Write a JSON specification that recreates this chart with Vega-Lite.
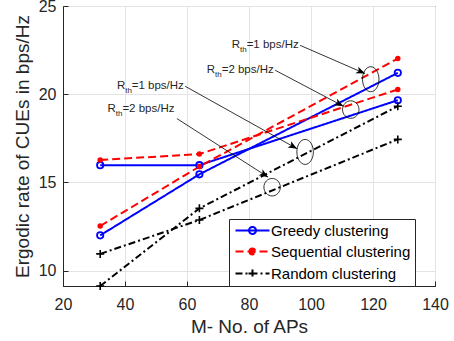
{
  "$schema": "https://vega.github.io/schema/vega-lite/v6.json",
  "width": 372,
  "height": 280,
  "autosize": "none",
  "padding": {"left": 63, "top": 6, "right": 19, "bottom": 55},
  "background": "white",
  "config": {
    "view": {"stroke": "#262626", "strokeWidth": 1},
    "font": "Liberation Sans",
    "axis": {
      "domainColor": "#262626",
      "tickColor": "#262626",
      "labelColor": "#262626",
      "titleColor": "#262626",
      "labelFont": "Liberation Sans",
      "titleFont": "Liberation Sans",
      "labelFontSize": 16,
      "titleFontSize": 19,
      "titleFontWeight": "normal",
      "gridColor": "#e3e3e3",
      "gridWidth": 1,
      "tickSize": -5,
      "tickWidth": 1
    },
    "legend": {
      "labelFont": "Liberation Sans",
      "labelFontSize": 15,
      "labelColor": "#000000",
      "strokeColor": "#262626",
      "fillColor": "#ffffff",
      "padding": 4,
      "rowPadding": 5,
      "symbolSize": 100,
      "symbolStrokeWidth": 2,
      "labelOffset": 23,
      "labelLimit": 300
    }
  },
  "datasets": {
    "series": [
      {"M": 32, "rate": 12.0, "method": "Greedy clustering", "rth": "1"},
      {"M": 64, "rate": 15.46, "method": "Greedy clustering", "rth": "1"},
      {"M": 128, "rate": 21.21, "method": "Greedy clustering", "rth": "1"},
      {"M": 32, "rate": 15.98, "method": "Greedy clustering", "rth": "2"},
      {"M": 64, "rate": 15.98, "method": "Greedy clustering", "rth": "2"},
      {"M": 128, "rate": 19.66, "method": "Greedy clustering", "rth": "2"},
      {"M": 32, "rate": 12.53, "method": "Sequential clustering", "rth": "1"},
      {"M": 64, "rate": 15.9, "method": "Sequential clustering", "rth": "1"},
      {"M": 128, "rate": 22.02, "method": "Sequential clustering", "rth": "1"},
      {"M": 32, "rate": 16.27, "method": "Sequential clustering", "rth": "2"},
      {"M": 64, "rate": 16.61, "method": "Sequential clustering", "rth": "2"},
      {"M": 128, "rate": 20.27, "method": "Sequential clustering", "rth": "2"},
      {"M": 32, "rate": 9.13, "method": "Random clustering", "rth": "1"},
      {"M": 64, "rate": 13.53, "method": "Random clustering", "rth": "1"},
      {"M": 128, "rate": 19.32, "method": "Random clustering", "rth": "1"},
      {"M": 32, "rate": 10.95, "method": "Random clustering", "rth": "2"},
      {"M": 64, "rate": 12.87, "method": "Random clustering", "rth": "2"},
      {"M": 128, "rate": 17.44, "method": "Random clustering", "rth": "2"}
    ],
    "notes": [
      {"id": 1, "rest": "=1 bps/Hz", "tx": 74.47, "ty": 22.62, "ax": 96.49, "ay": 22.77, "bx": 117.44, "by": 21.17, "ex": 119.27, "ey": 20.85},
      {"id": 2, "rest": "=2 bps/Hz", "tx": 66.41, "ty": 21.21, "ax": 88.43, "ay": 21.36, "bx": 110.44, "by": 19.32, "ex": 112.83, "ey": 19.13},
      {"id": 3, "rest": "=1 bps/Hz", "tx": 37.41, "ty": 20.27, "ax": 59.42, "ay": 20.45, "bx": 95.52, "by": 16.91, "ex": 98.1, "ey": 16.73},
      {"id": 4, "rest": "=2 bps/Hz", "tx": 34.38, "ty": 18.98, "ax": 56.74, "ay": 18.62, "bx": 86.17, "by": 15.3, "ex": 87.46, "ey": 14.73}
    ]
  },
  "encoding": {
    "x": {
      "field": "M", "type": "quantitative",
      "scale": {"domain": [20, 140], "nice": false, "zero": false},
      "axis": {"values": [20, 40, 60, 80, 100, 120, 140], "title": "M- No. of APs", "labelPadding": 15, "titlePadding": 5, "labelFlush": false}
    },
    "y": {
      "field": "rate", "type": "quantitative",
      "scale": {"domain": [9.13, 25], "nice": false, "zero": false},
      "axis": {"values": [10, 15, 20, 25], "title": "Ergodic rate of CUEs in bps/Hz", "labelPadding": 12, "titlePadding": 6}
    }
  },
  "layer": [
    {
      "data": {"name": "series"},
      "mark": {"type": "line", "strokeWidth": 2},
      "encoding": {
        "color": {
          "field": "method", "type": "nominal",
          "scale": {"domain": ["Greedy clustering", "Sequential clustering", "Random clustering"], "range": ["#0000ff", "#ff0000", "#000000"]},
          "legend": {
            "title": null,
            "orient": "none",
            "legendX": 166,
            "legendY": 213,
            "encode": {
              "symbols": {
                "update": {
                  "shape": {"signal": "datum.value === 'Greedy clustering' ? 'M-1,0H5.8M1.7,0A0.7,0.7 0 1,1 3.1,0A0.7,0.7 0 1,1 1.7,0' : datum.value === 'Sequential clustering' ? 'M-1,0H5.8M1.8,0A0.6,0.6 0 1,1 3,0A0.6,0.6 0 1,1 1.8,0' : 'M-1,0H5.8M2.4,-0.8V0.8M1.6,0H3.2'"},
                  "fill": {"signal": "datum.value === 'Sequential clustering' ? '#ff0000' : 'transparent'"},
                  "strokeDash": {"signal": "datum.value === 'Greedy clustering' ? [1,0] : datum.value === 'Sequential clustering' ? [8,4] : [7,3,2,3]"},
                  "strokeWidth": {"value": 2}
                }
              }
            }
          }
        },
        "strokeDash": {
          "field": "method", "type": "nominal",
          "scale": {"domain": ["Greedy clustering", "Sequential clustering", "Random clustering"], "range": [[1, 0], [8, 4], [7, 3, 2, 3]]},
          "legend": null
        },
        "detail": {"field": "rth"}
      }
    },
    {
      "data": {"name": "series"},
      "transform": [{"filter": "datum.method === 'Greedy clustering'"}],
      "mark": {"type": "point", "shape": "circle", "filled": false, "size": 40, "strokeWidth": 1.8, "color": "#0000ff", "opacity": 1}
    },
    {
      "data": {"name": "series"},
      "transform": [{"filter": "datum.method === 'Sequential clustering'"}],
      "mark": {"type": "point", "shape": "circle", "filled": true, "size": 30, "color": "#ff0000", "opacity": 1}
    },
    {
      "data": {"name": "series"},
      "transform": [{"filter": "datum.method === 'Random clustering'"}],
      "mark": {"type": "point", "shape": "M-1,0H1M0,-1V1", "filled": false, "size": 64, "strokeWidth": 1.6, "color": "#000000", "opacity": 1}
    },
    {
      "data": {"name": "notes"},
      "mark": {"type": "rule", "color": "#000000", "strokeWidth": 0.8},
      "encoding": {
        "x": {"field": "ax", "type": "quantitative"},
        "y": {"field": "ay", "type": "quantitative"},
        "x2": {"field": "bx"},
        "y2": {"field": "by"}
      }
    },
    {
      "data": {"name": "notes"},
      "mark": {"type": "text", "text": "R", "align": "left", "baseline": "alphabetic", "fontSize": 11.5, "font": "Liberation Sans", "color": "#262626"},
      "encoding": {
        "x": {"field": "tx", "type": "quantitative"},
        "y": {"field": "ty", "type": "quantitative"}
      }
    },
    {
      "data": {"name": "notes"},
      "mark": {"type": "text", "text": "th", "align": "left", "baseline": "alphabetic", "fontSize": 8, "dx": 8.2, "dy": 4, "font": "Liberation Sans", "color": "#262626"},
      "encoding": {
        "x": {"field": "tx", "type": "quantitative"},
        "y": {"field": "ty", "type": "quantitative"}
      }
    },
    {
      "data": {"name": "notes"},
      "mark": {"type": "text", "align": "left", "baseline": "alphabetic", "fontSize": 11.5, "dx": 14.8, "font": "Liberation Sans", "color": "#262626"},
      "encoding": {
        "x": {"field": "tx", "type": "quantitative"},
        "y": {"field": "ty", "type": "quantitative"},
        "text": {"field": "rest"}
      }
    },
    {
      "data": {"name": "notes"},
      "transform": [{"filter": "datum.id === 1 || datum.id === 3"}],
      "mark": {"type": "point", "shape": "M0,-1A0.66,1 0 1,1 0,1A0.66,1 0 1,1 0,-1Z", "size": 625, "filled": false, "strokeWidth": 0.8, "color": "#000000", "opacity": 1},
      "encoding": {
        "x": {"field": "ex", "type": "quantitative"},
        "y": {"field": "ey", "type": "quantitative"}
      }
    },
    {
      "data": {"name": "notes"},
      "transform": [{"filter": "datum.id === 2 || datum.id === 4"}],
      "mark": {"type": "point", "shape": "M0,-1A0.94,1 0 1,1 0,1A0.94,1 0 1,1 0,-1Z", "size": 306, "filled": false, "strokeWidth": 0.8, "color": "#000000", "opacity": 1},
      "encoding": {
        "x": {"field": "ex", "type": "quantitative"},
        "y": {"field": "ey", "type": "quantitative"}
      }
    },
    {
      "data": {"name": "notes"},
      "transform": [{"filter": "datum.id === 1"}],
      "mark": {"type": "point", "shape": "M0,0L-1,-0.4L-0.75,0L-1,0.4Z", "size": 324, "filled": true, "angle": 23.5, "color": "#000000", "opacity": 1},
      "encoding": {
        "x": {"field": "bx", "type": "quantitative"},
        "y": {"field": "by", "type": "quantitative"}
      }
    },
    {
      "data": {"name": "notes"},
      "transform": [{"filter": "datum.id === 2"}],
      "mark": {"type": "point", "shape": "M0,0L-1,-0.4L-0.75,0L-1,0.4Z", "size": 324, "filled": true, "angle": 27.8, "color": "#000000", "opacity": 1},
      "encoding": {
        "x": {"field": "bx", "type": "quantitative"},
        "y": {"field": "by", "type": "quantitative"}
      }
    },
    {
      "data": {"name": "notes"},
      "transform": [{"filter": "datum.id === 3"}],
      "mark": {"type": "point", "shape": "M0,0L-1,-0.4L-0.75,0L-1,0.4Z", "size": 324, "filled": true, "angle": 29.2, "color": "#000000", "opacity": 1},
      "encoding": {
        "x": {"field": "bx", "type": "quantitative"},
        "y": {"field": "by", "type": "quantitative"}
      }
    },
    {
      "data": {"name": "notes"},
      "transform": [{"filter": "datum.id === 4"}],
      "mark": {"type": "point", "shape": "M0,0L-1,-0.4L-0.75,0L-1,0.4Z", "size": 324, "filled": true, "angle": 32.7, "color": "#000000", "opacity": 1},
      "encoding": {
        "x": {"field": "bx", "type": "quantitative"},
        "y": {"field": "by", "type": "quantitative"}
      }
    }
  ]
}
